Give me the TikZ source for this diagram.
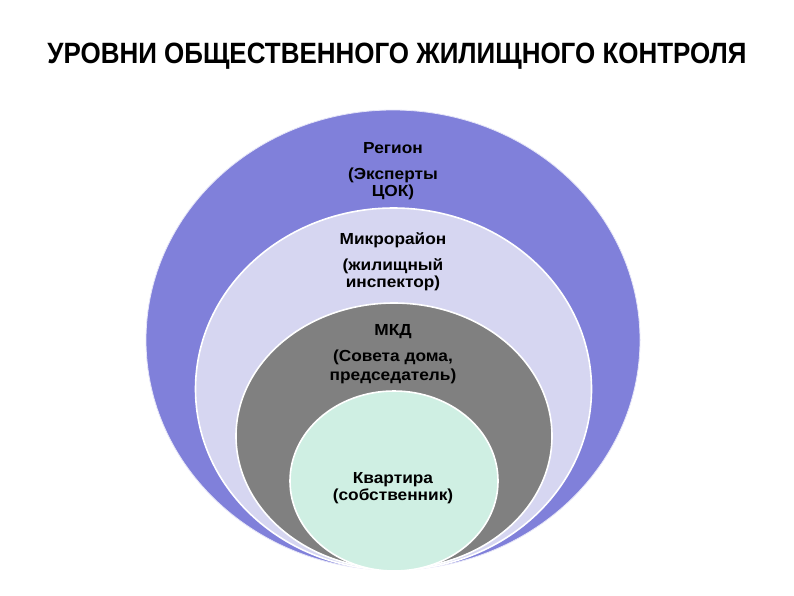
\documentclass[tikz,border=0pt]{standalone}
\usepackage{fontspec}
\setmainfont{Liberation Sans}
\usetikzlibrary{shapes.geometric}
\definecolor{ringA}{HTML}{8080DA}
\definecolor{ringB}{HTML}{D6D6F1}
\definecolor{ringC}{HTML}{808080}
\definecolor{ringD}{HTML}{CFEFE3}
\tikzset{
  ring/.style={ellipse, draw=white, line width=1.6pt, inner sep=0pt},
  lbl/.style={font=\bfseries\fontsize{16}{17}\selectfont, align=center, inner sep=0pt, text=black, xscale=1.08},
}
\begin{document}
\begin{tikzpicture}[x=1pt,y=-1pt]
\useasboundingbox (0,0) rectangle (794,595);
\fill[white] (0,0) rectangle (794,595);
\node[anchor=base, inner sep=0pt] (title) at (397,63)
  {\resizebox{699pt}{20.5pt}{\bfseries УРОВНИ ОБЩЕСТВЕННОГО ЖИЛИЩНОГО КОНТРОЛЯ}};
\node[ring, fill=ringA, draw=white!80!ringA, line width=0.8pt, minimum width=494pt, minimum height=460pt] (region) at (393,340) {};
\node[ring, fill=ringB, minimum width=396pt, minimum height=362pt] (micro) at (393.5,389) {};
\node[ring, fill=ringC, minimum width=316pt, minimum height=266pt] (mkd) at (394,436) {};
\node[ring, fill=ringD, minimum width=208pt, minimum height=180pt] (flat) at (394,481) {};
\node[lbl] (regionT) at (393,148) {Регион};
\node[lbl] (regionS) at (393,183.5) {(Эксперты\\ЦОК)};
\node[lbl] (microT) at (393,240) {Микрорайон};
\node[lbl] (microS) at (393,275) {(жилищный\\инспектор)};
\node[lbl] (mkdT) at (393,332) {МКД};
\node[lbl, font=\bfseries\fontsize{16}{19}\selectfont] (mkdS) at (393,366.5) {(Совета дома,\\председатель)};
\node[lbl] (flatT) at (393,488.5) {Квартира\\(собственник)};
\end{tikzpicture}
\end{document}
